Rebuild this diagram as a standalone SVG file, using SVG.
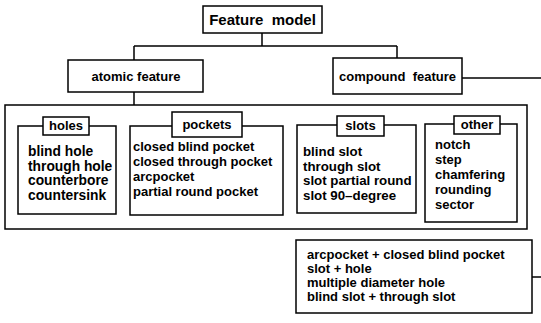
<svg xmlns="http://www.w3.org/2000/svg" width="541" height="323" viewBox="0 0 541 323">
  <style>
    .box { fill: #fff; stroke: #000; stroke-width: 1.5; }
    .wire { fill: none; stroke: #000; stroke-width: 1.5; }
    text { font-family: "Liberation Sans", Arial, sans-serif; font-weight: bold; font-size: 13px; fill: #000; }
    .title { font-size: 15px; }
    .mid { text-anchor: middle; }
    .wide { font-size: 13.8px; }
    .slot { font-size: 13.3px; }
  </style>
  <rect width="541" height="323" fill="#fff"/>

  <!-- connectors -->
  <g id="connectors">
    <path class="wire" d="M262 33 V46 M134 46 H397 M134 46 V60 M397 46 V58"/>
    <path class="wire" d="M462 78 H541"/>
    <path class="wire" d="M134 92 V105"/>
    <path class="wire" d="M532 277 H541"/>
  </g>

  <g id="feature-model">
    <rect class="box" x="203" y="6" width="119" height="27"/>
    <text class="title mid" x="262.5" y="25" xml:space="preserve">Feature  model</text>
  </g>

  <g id="atomic-feature">
    <rect class="box" x="68" y="60" width="135" height="32"/>
    <text class="mid" x="136" y="81">atomic feature</text>
  </g>

  <g id="compound-feature">
    <rect class="box" x="333" y="58" width="129" height="36"/>
    <text class="mid" x="397.5" y="81" xml:space="preserve">compound  feature</text>
  </g>

  <!-- container of atomic feature groups -->
  <g id="atomic-groups">
    <rect class="box" x="5" y="105" width="522" height="124"/>
  </g>

  <g id="holes">
    <rect class="box" x="18" y="126" width="98" height="88"/>
    <rect class="box" x="43" y="117" width="46" height="18"/>
    <text class="mid" x="66" y="130">holes</text>
    <text class="wide" x="28" y="156">blind hole</text>
    <text class="wide" x="28" y="170.5">through hole</text>
    <text class="wide" x="28" y="185">counterbore</text>
    <text class="wide" x="28" y="199.5">countersink</text>
  </g>

  <g id="pockets">
    <rect class="box" x="130" y="126" width="153" height="89"/>
    <rect class="box" x="172" y="112" width="70" height="25"/>
    <text class="mid" x="207" y="129">pockets</text>
    <text x="133" y="151">closed blind pocket</text>
    <text x="133" y="166">closed through pocket</text>
    <text x="133" y="181">arcpocket</text>
    <text x="133" y="196">partial round pocket</text>
  </g>

  <g id="slots">
    <rect class="box" x="297" y="125" width="119" height="88"/>
    <rect class="box" x="337" y="116" width="47" height="20"/>
    <text class="mid" x="360.5" y="130">slots</text>
    <text class="slot" x="303" y="156">blind slot</text>
    <text class="slot" x="303" y="170.5">through slot</text>
    <text class="slot" x="303" y="185">slot partial round</text>
    <text class="slot" x="303" y="199.5">slot 90–degree</text>
  </g>

  <g id="other">
    <rect class="box" x="425" y="124" width="92" height="98"/>
    <rect class="box" x="454" y="116" width="46" height="18"/>
    <text class="mid" x="477" y="129">other</text>
    <text x="435" y="149">notch</text>
    <text x="435" y="164">step</text>
    <text x="435" y="179">chamfering</text>
    <text x="435" y="194">rounding</text>
    <text x="435" y="209">sector</text>
  </g>

  <g id="compound-list">
    <rect class="box" x="296" y="240" width="236" height="73"/>
    <text x="307" y="259">arcpocket + closed blind pocket</text>
    <text x="307" y="273">slot + hole</text>
    <text x="307" y="287">multiple diameter hole</text>
    <text x="307" y="301">blind slot + through slot</text>
  </g>
</svg>
